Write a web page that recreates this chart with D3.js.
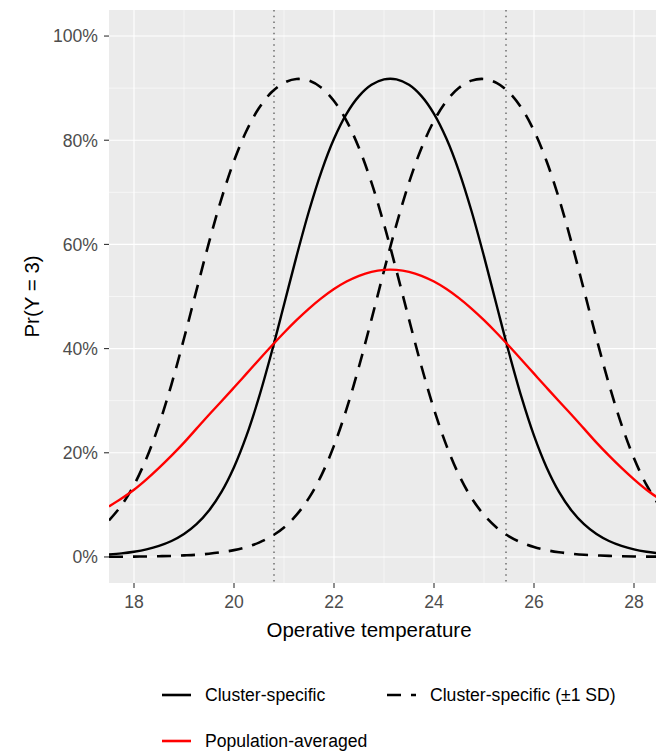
<!DOCTYPE html>
<html><head><meta charset="utf-8">
<script src="https://cdn.jsdelivr.net/npm/d3@7"></script>
<style>body{margin:0;background:#fff} text{font-family:"Liberation Sans", Arial, sans-serif}</style>
</head><body><svg id="chart" width="656" height="752"></svg>
<script>
// ---- data ----
const temperature = [17.5,17.75,18,18.25,18.5,18.75,19,19.25,19.5,19.75,20,20.25,20.5,20.75,21,21.25,21.5,21.75,22,22.25,22.5,22.75,23,23.25,23.5,23.75,24,24.25,24.5,24.75,25,25.25,25.5,25.75,26,26.25,26.5,26.75,27,27.25,27.5,27.75,28,28.25,28.5];
const clusterSpecific = [0.0048,0.0069,0.0101,0.0146,0.0212,0.0306,0.0440,0.0629,0.0892,0.1249,0.1723,0.2328,0.3067,0.3919,0.4841,0.5770,0.6641,0.7403,0.8027,0.8506,0.8846,0.9063,0.9167,0.9167,0.9063,0.8846,0.8506,0.8027,0.7403,0.6641,0.5770,0.4841,0.3919,0.3067,0.2328,0.1723,0.1249,0.0892,0.0629,0.0440,0.0306,0.0212,0.0146,0.0101,0.0069];
const clusterMinusSD = [0.0702,0.0991,0.1382,0.1895,0.2540,0.3315,0.4193,0.5121,0.6038,0.6880,0.7602,0.8181,0.8618,0.8920,0.9102,0.9175,0.9144,0.9007,0.8754,0.8373,0.7851,0.7185,0.6386,0.5493,0.4561,0.3656,0.2836,0.2137,0.1571,0.1134,0.0807,0.0567,0.0396,0.0275,0.0190,0.0131,0.0091,0.0062,0.0042,0.0030,0.0020,0.0014,0.0010,0.0007,0.0005];
const clusterPlusSD = [0.0003,0.0005,0.0007,0.0010,0.0014,0.0020,0.0030,0.0042,0.0062,0.0091,0.0131,0.0190,0.0275,0.0396,0.0567,0.0807,0.1134,0.1571,0.2137,0.2836,0.3656,0.4561,0.5493,0.6386,0.7185,0.7851,0.8373,0.8754,0.9007,0.9144,0.9175,0.9102,0.8920,0.8618,0.8181,0.7602,0.6880,0.6038,0.5121,0.4193,0.3315,0.2540,0.1895,0.1382,0.0991];
const populationAveraged = [0.097,0.112,0.129,0.149,0.171,0.1945,0.2195,0.2463,0.2731,0.2988,0.3252,0.3519,0.3786,0.4049,0.4304,0.4545,0.4768,0.4968,0.5143,0.5287,0.5398,0.5473,0.5511,0.5511,0.5473,0.5398,0.5287,0.5143,0.4968,0.4768,0.4545,0.4304,0.4049,0.3786,0.3519,0.3252,0.2988,0.2731,0.2463,0.2195,0.1945,0.171,0.149,0.129,0.112];
const crossingTemps = [20.8, 25.44];
const xTicks = [18,20,22,24,26,28];
const xMinor = [19,21,23,25,27];
const yTicks = [0,0.2,0.4,0.6,0.8,1.0];
const yMinor = [0.1,0.3,0.5,0.7,0.9];
const legendLabels = ["Cluster-specific","Cluster-specific (\u00b11 SD)","Population-averaged"];
const xTitle = "Operative temperature";
const yTitle = "Pr(Y = 3)";

// ---- layout ----
const L = 109, T = 10, R = 659, B = 583;
const svg = d3.select("#chart");
svg.append("rect").attr("width",656).attr("height",752).attr("fill","#fff");
const x = d3.scaleLinear().domain([17.5,28.5]).range([L,R]);
const y = d3.scaleLinear().domain([-0.05,1.05]).range([B,T]);

svg.append("defs").append("clipPath").attr("id","clip")
  .append("rect").attr("x",L).attr("y",T).attr("width",R-L).attr("height",B-T);

svg.append("rect").attr("x",L).attr("y",T).attr("width",R-L).attr("height",B-T).attr("fill","#EBEBEB");

const grid = svg.append("g");
grid.selectAll(".xm").data(xMinor).join("line")
  .attr("x1",d=>x(d)).attr("x2",d=>x(d)).attr("y1",T).attr("y2",B)
  .attr("stroke","#fff").attr("stroke-width",0.55);
grid.selectAll(".ym").data(yMinor).join("line")
  .attr("y1",d=>y(d)).attr("y2",d=>y(d)).attr("x1",L).attr("x2",R)
  .attr("stroke","#fff").attr("stroke-width",0.55);
grid.selectAll(".xM").data(xTicks).join("line")
  .attr("x1",d=>x(d)).attr("x2",d=>x(d)).attr("y1",T).attr("y2",B)
  .attr("stroke","#fff").attr("stroke-width",1.1);
grid.selectAll(".yM").data(yTicks).join("line")
  .attr("y1",d=>y(d)).attr("y2",d=>y(d)).attr("x1",L).attr("x2",R)
  .attr("stroke","#fff").attr("stroke-width",1.1);

const plot = svg.append("g").attr("clip-path","url(#clip)");

plot.selectAll(".vl").data(crossingTemps).join("line")
  .attr("x1",d=>x(d)).attr("x2",d=>x(d)).attr("y1",T).attr("y2",B)
  .attr("stroke","#6e6e6e").attr("stroke-width",1.5).attr("stroke-dasharray","1.5,4.2");

const line = vals => d3.line().curve(d3.curveCatmullRom.alpha(0.5))
  .x((d,i)=>x(temperature[i])).y(d=>y(d))(vals);

plot.append("path").attr("d",line(clusterSpecific)).attr("fill","none")
  .attr("stroke","#000").attr("stroke-width",2.4);
plot.append("path").attr("d",line(clusterMinusSD)).attr("fill","none")
  .attr("stroke","#000").attr("stroke-width",2.6).attr("stroke-dasharray","14,10");
plot.append("path").attr("d",line(clusterPlusSD)).attr("fill","none")
  .attr("stroke","#000").attr("stroke-width",2.6).attr("stroke-dasharray","14,10");
plot.append("path").attr("d",line(populationAveraged)).attr("fill","none")
  .attr("stroke","#FF0000").attr("stroke-width",2.4);

// axes
const ax = svg.append("g");
ax.selectAll(".xt").data(xTicks).join("line")
  .attr("x1",d=>x(d)).attr("x2",d=>x(d)).attr("y1",B).attr("y2",B+5)
  .attr("stroke","#333").attr("stroke-width",1.1);
ax.selectAll(".xl").data(xTicks).join("text")
  .attr("x",d=>x(d)).attr("y",B+25).attr("text-anchor","middle")
  .attr("font-size",17.6).attr("fill","#4D4D4D").text(d=>d);
ax.selectAll(".yt").data(yTicks).join("line")
  .attr("y1",d=>y(d)).attr("y2",d=>y(d)).attr("x1",L-5).attr("x2",L)
  .attr("stroke","#333").attr("stroke-width",1.1);
ax.selectAll(".yl").data(yTicks).join("text")
  .attr("x",L-11).attr("y",d=>y(d)).attr("dy","0.36em").attr("text-anchor","end")
  .attr("font-size",17.6).attr("fill","#4D4D4D").text(d=>d3.format(".0%")(d));

svg.append("text").attr("x",369).attr("y",637).attr("text-anchor","middle")
  .attr("font-size",20.5).attr("fill","#000").text(xTitle);
svg.append("text").attr("transform",`translate(39,${(T+B)/2}) rotate(-90)`)
  .attr("text-anchor","middle").attr("font-size",20.5).attr("fill","#000").text(yTitle);

// legend
const leg = [
  {label:legendLabels[0], color:"#000", dash:null, x:162, y:695},
  {label:legendLabels[1], color:"#000", dash:"14,10", x:387, y:695},
  {label:legendLabels[2], color:"#FF0000", dash:null, x:162, y:741}
];
const lg = svg.append("g");
leg.forEach(d=>{
  lg.append("line").attr("x1",d.x).attr("x2",d.x+29).attr("y1",d.y).attr("y2",d.y)
    .attr("stroke",d.color).attr("stroke-width",2.6).attr("stroke-dasharray",d.dash);
  lg.append("text").attr("x",d.x+43).attr("y",d.y).attr("dy","0.36em")
    .attr("font-size",17.6).attr("fill","#000").text(d.label);
});
</script></body></html>
